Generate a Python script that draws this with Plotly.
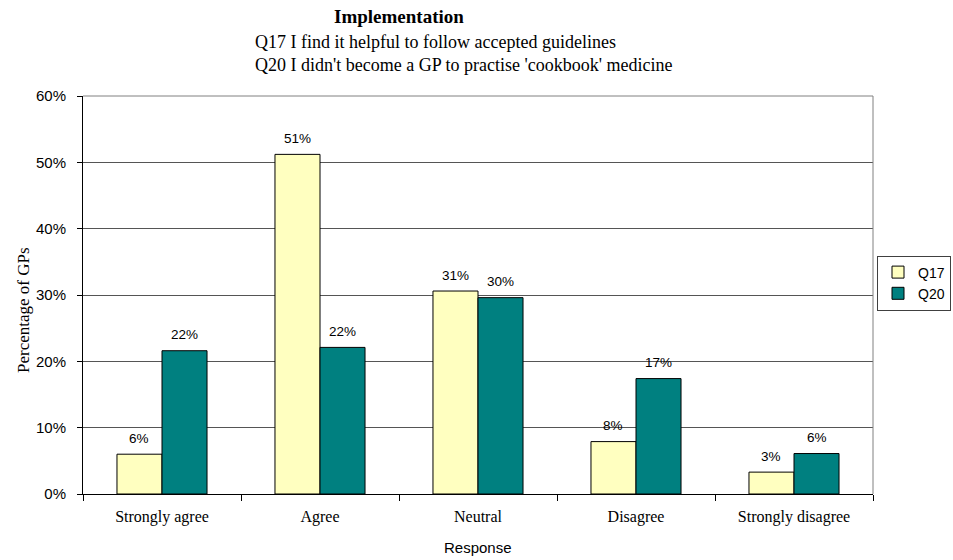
import plotly.graph_objects as go

categories = ["Strongly agree", "Agree", "Neutral", "Disagree", "Strongly disagree"]
q17 = [6.0, 51.2, 30.6, 7.9, 3.3]
q20 = [21.6, 22.1, 29.6, 17.4, 6.1]
series_names = ["Q17", "Q20"]
title = "Implementation"
subtitle1 = "Q17 I find it helpful to follow accepted guidelines"
subtitle2 = "Q20 I didn't become a GP to practise 'cookbook' medicine"
x_title = "Response"
y_title = "Percentage of GPs"

W, H = 953, 560
L, R, T, B = 83, 873, 96, 494
SERIF = "Liberation Serif, Times New Roman, serif"
SANS = "Liberation Sans, Arial, sans-serif"
BARGAP = 0.43
off = (1 - BARGAP) / 4

def px_to_paper_x(px):
    return (px - L) / (R - L)

def px_to_paper_y(py):
    return (B - py) / (B - T)

fig = go.Figure()
fig.add_trace(go.Bar(name=series_names[0], x=categories, y=q17,
                     marker=dict(color="#FFFFC0", line=dict(color="black", width=1))))
fig.add_trace(go.Bar(name=series_names[1], x=categories, y=q20,
                     marker=dict(color="#008080", line=dict(color="black", width=1))))

annotations = []
for i in range(len(categories)):
    for vals, d in ((q17, -off), (q20, off)):
        annotations.append(dict(x=i + d, y=vals[i], xref="x", yref="y",
                                text=f"{vals[i]:.0f}%", showarrow=False,
                                yanchor="middle", yshift=16,
                                font=dict(family=SANS, size=13.5, color="black")))

annotations += [
    dict(x=px_to_paper_x(332), y=px_to_paper_y(16), xref="paper", yref="paper",
         text=f"<b>{title}</b>", showarrow=False, xanchor="left", yanchor="middle",
         font=dict(family=SERIF, size=19, color="black")),
    dict(x=px_to_paper_x(253), y=px_to_paper_y(42), xref="paper", yref="paper",
         text=subtitle1, showarrow=False, xanchor="left", yanchor="middle",
         font=dict(family=SERIF, size=18, color="black")),
    dict(x=px_to_paper_x(253), y=px_to_paper_y(65), xref="paper", yref="paper",
         text=subtitle2, showarrow=False, xanchor="left", yanchor="middle",
         font=dict(family=SERIF, size=18, color="black")),
    dict(x=0.5, y=px_to_paper_y(547), xref="paper", yref="paper",
         text=x_title, showarrow=False, xanchor="center", yanchor="middle",
         font=dict(family=SANS, size=15, color="black")),
    dict(x=px_to_paper_x(23), y=px_to_paper_y(310), xref="paper", yref="paper",
         text=y_title, showarrow=False, xanchor="center", yanchor="middle", textangle=-90,
         font=dict(family=SERIF, size=17, color="black")),
]

fig.update_layout(
    width=W, height=H,
    margin=dict(l=L, r=W - R, t=T, b=H - B, autoexpand=False),
    paper_bgcolor="white", plot_bgcolor="white",
    barmode="group", bargap=BARGAP, bargroupgap=0,
    showlegend=True,
    legend=dict(xref="container", x=951 / W, xanchor="right",
                yref="container", y=1 - 283 / H, yanchor="middle",
                bgcolor="white", bordercolor="#404040", borderwidth=1,
                itemwidth=30, tracegroupgap=0,
                font=dict(family=SANS, size=14, color="black")),
    annotations=annotations,
    shapes=[
        dict(type="line", xref="paper", yref="paper", x0=0, x1=1, y0=1, y1=1,
             line=dict(color="#808080", width=1)),
        dict(type="line", xref="paper", yref="paper", x0=1, x1=1, y0=0, y1=1,
             line=dict(color="#808080", width=1)),
    ],
    xaxis=dict(type="category", showline=True, linecolor="black", linewidth=1,
               ticks="outside", tickson="boundaries", ticklen=6, tickcolor="black",
               ticklabelstandoff=8, showgrid=False,
               tickfont=dict(family=SERIF, size=16, color="black")),
    yaxis=dict(range=[0, 60], dtick=10, ticksuffix="%", showline=True, linecolor="black",
               linewidth=1, ticks="outside", ticklen=5, tickcolor="black",
               ticklabelstandoff=8, showgrid=True, gridcolor="#555555", gridwidth=1,
               zeroline=False,
               tickfont=dict(family=SANS, size=15, color="black")),
)

fig.write_html("out.html")
